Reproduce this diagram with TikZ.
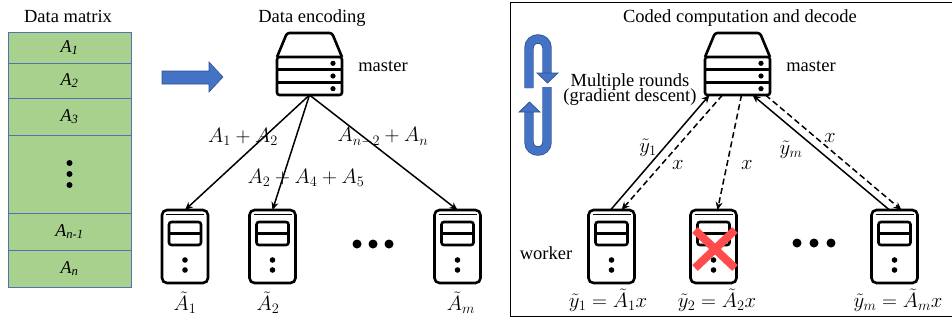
\documentclass[tikz,border=0pt]{standalone}
\usepackage{fontspec}
\setmainfont{Liberation Serif}
\usetikzlibrary{arrows.meta,positioning}
\definecolor{matgreen}{HTML}{A9D18E}
\definecolor{matline}{HTML}{4F74B0}
\definecolor{flowblue}{HTML}{4472C4}
\definecolor{flowedge}{HTML}{2F528F}
\definecolor{failred}{HTML}{FF4B4B}

\newcommand{\workerbits}[1]{%
  \begin{scope}[shift={(#1.north west)}]
    \draw[line width=1.6pt] (4,4.5) -- (42,4.5);
    \draw[icon] (7,12) rectangle (39,35);
    \draw[icon] (7,23.5) -- (39,23.5);
    \fill (23,50) circle (2.8) (23,60) circle (2.8);
  \end{scope}}
\newcommand{\masterbits}[1]{%
  \begin{scope}[shift={(#1.north west)}]
    \draw[icon] (0,0) -- (10,-24) -- (55,-24) -- (65,0);
    \draw[icon] (0,12.7) -- (65,12.7) (0,25.3) -- (65,25.3);
    \fill (56,6.3) circle (2.6) (56,19) circle (2.6) (56,31.7) circle (2.6);
  \end{scope}}

\begin{document}
\begin{tikzpicture}[x=1pt,y=-1pt,
  every node/.style={font=\fontsize{18.5}{21}\selectfont},
  mlbl/.style={font=\fontsize{20.74}{24}\selectfont, inner sep=0pt},
  cell/.style={draw=matline, fill=matgreen, line width=0.9pt, minimum width=123pt,
    inner sep=0pt, outer sep=0pt, font=\fontsize{18}{20}\selectfont\itshape},
  icon/.style={line width=2.6pt, rounded corners=2.5pt},
  pc/.style={icon, draw, minimum width=46pt, minimum height=73pt, inner sep=0pt,
    outer sep=0pt, rounded corners=5pt},
  srv/.style={icon, draw, minimum width=65pt, minimum height=38pt, inner sep=0pt,
    outer sep=0pt},
  link/.style={-{Stealth[length=8pt,width=7pt]}, line width=1.5pt},
  dlink/.style={link, dash pattern=on 6pt off 3.5pt},
  ]
  \useasboundingbox (0,0) rectangle (952,322);

  % data matrix
  \node (dm) at (68,16) {Data matrix};
  \node[cell, minimum height=31pt, anchor=north] (a1) at (69.5,32) {A\textsubscript{1}};
  \node[cell, minimum height=35pt, below=0pt of a1] (a2) {A\textsubscript{2}};
  \node[cell, minimum height=37pt, below=0pt of a2] (a3) {A\textsubscript{3}};
  \node[cell, minimum height=78pt, below=0pt of a3] (a4) {};
  \node[cell, minimum height=37pt, below=0pt of a4] (a5) {A\textsubscript{n-1}};
  \node[cell, minimum height=37pt, below=0pt of a5] (a6) {A\textsubscript{n}};
  \foreach \d in {-11,0,11} \fill ([yshift=\d pt]a4.center) circle (3);

  \filldraw[fill=flowblue, draw=flowedge, line width=0.6pt]
    (162,71) -- (209,71) -- (209,62) -- (223,77) -- (209,92) -- (209,84) -- (162,84) -- cycle;

  % encoding
  \node (enc) at (312,18) {Data encoding};
  \node[srv] (m1) at (309.5,76) {};
  \masterbits{m1}
  \node (m1l) at (383,66) {master};
  \foreach \n/\x in {w1/185, w2/272.5, w3/457.5} \node[pc] (\n) at (\x,246.5) {};
  \foreach \n in {w1,w2,w3} \workerbits{\n};
  \draw[link] (m1.south) -- (w1.north);
  \draw[link] (m1.south) -- (w2.north);
  \draw[link] (m1.south) -- (w3.north);
  \node[mlbl] (c1) at (243,137) {$A_1+A_2$};
  \node[mlbl] (c3) at (383,137) {$A_{n-2}+A_n$};
  \node[mlbl] (c2) at (306,178) {$A_2+A_4+A_5$};
  \node[mlbl] (t1) at (185,303) {$\tilde{A}_1$};
  \node[mlbl] (t2) at (268,303) {$\tilde{A}_2$};
  \node[mlbl] (t3) at (461,303) {$\tilde{A}_m$};
  \foreach \x in {357,373,389} \fill (\x,244) circle (4.5);

  % computation and decode
  \draw[line width=1pt] (510,2) rectangle (956,316);
  \node (dec) at (740,18) {Coded computation and decode};
  \node[srv] (m2) at (737.5,76) {};
  \masterbits{m2}
  \node (m2l) at (811,66) {master};
  \foreach \n/\x in {r1/611.5, r2/713.5, r3/894.5} \node[pc] (\n) at (\x,246.5) {};
  \foreach \n in {r1,r2,r3} \workerbits{\n};
  \draw[link] ([xshift=-1pt]r1.north) -- ([xshift=-28pt]m2.south);
  \draw[dlink] ([xshift=-15pt]m2.south) -- ([xshift=10pt]r1.north);
  \draw[dlink] ([xshift=4pt]m2.south) -- ([xshift=4pt]r2.north);
  \draw[link] ([xshift=-5pt]r3.north) -- ([xshift=15pt]m2.south);
  \draw[dlink] ([xshift=28pt]m2.south) -- ([xshift=7pt]r3.north);
  \node[mlbl] (y1) at (648,148) {$\tilde{y}_1$};
  \node[mlbl] (x1) at (678,165) {$x$};
  \node[mlbl] (x2) at (747,165) {$x$};
  \node[mlbl] (ym) at (791,150) {$\tilde{y}_m$};
  \node[mlbl] (x3) at (830,138) {$x$};
  \node[mlbl] (o1) at (608,300) {$\tilde{y}_1=\tilde{A}_1x$};
  \node[mlbl] (o2) at (717,300) {$\tilde{y}_2=\tilde{A}_2x$};
  \node[mlbl] (o3) at (898,300) {$\tilde{y}_m=\tilde{A}_mx$};
  \node (wk) at (546,253) {worker};
  \foreach \x in {797,814,831} \fill (\x,243) circle (4.5);
  \draw[failred, line width=8pt] (695,230) -- (735,268) (695,268) -- (735,230);

  % rounds loop
  \draw[flowedge, line width=9.4pt] (529,88) -- (529,48) .. controls (529,36) and (547,36) .. (547,48) -- (547,74);
  \draw[flowblue, line width=7.8pt] (529,88) -- (529,48) .. controls (529,36) and (547,36) .. (547,48) -- (547,74);
  \draw[flowedge, line width=9.4pt] (547,87) -- (547,142) .. controls (547,154) and (529,154) .. (529,142) -- (529,111);
  \draw[flowblue, line width=7.8pt] (547,87) -- (547,142) .. controls (547,154) and (529,154) .. (529,142) -- (529,111);
  \filldraw[fill=flowblue, draw=flowedge, line width=0.7pt] (537,73) -- (558,73) -- (547.5,83) -- cycle;
  \filldraw[fill=flowblue, draw=flowedge, line width=0.7pt] (519,112) -- (540,112) -- (529.5,102) -- cycle;
  \node (mr) at (630,82) {Multiple rounds};
  \node (gd) at (630,97) {(gradient descent)};
\end{tikzpicture}
\end{document}
